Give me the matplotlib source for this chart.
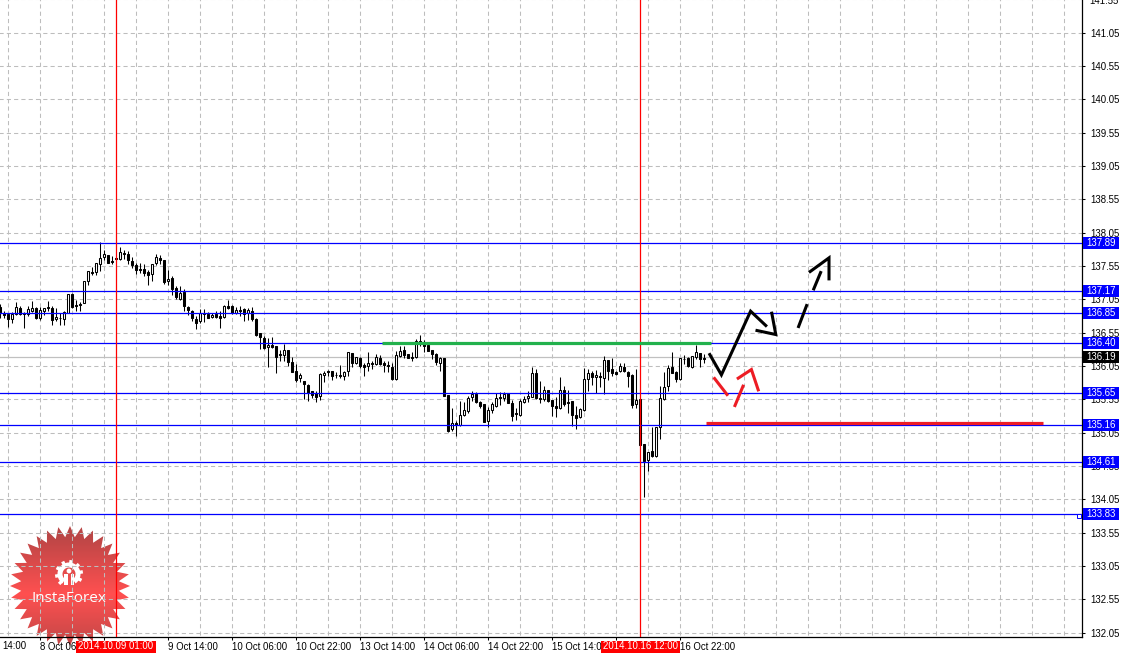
import numpy as np
import matplotlib
matplotlib.use("Agg")
import matplotlib.pyplot as plt
from matplotlib.patches import Rectangle, Polygon, Circle, Wedge
from matplotlib.transforms import Affine2D, blended_transform_factory

opens = [136.94,136.84,136.83,136.76,136.83,136.92,136.85,136.83,136.88,136.925,136.775,136.88,136.935,136.92,136.75,136.775,136.75,136.84,137.135,136.97,
136.98,136.99,137.33,137.46,137.46,137.58,137.685,137.72,137.63,137.67,137.65,137.745,137.735,137.625,137.57,137.505,137.51,137.455,137.43,137.59,
137.675,137.64,137.325,137.37,137.225,137.06,137.16,136.94,136.88,136.76,136.72,136.845,136.825,136.78,136.83,136.805,136.79,136.95,136.95,136.84,
136.895,136.90,136.84,136.88,136.76,136.545,136.475,136.335,136.37,136.35,136.235,136.21,136.295,136.105,135.98,135.865,135.825,135.77,135.675,135.645,
135.60,135.915,135.975,135.98,135.92,135.915,135.895,135.97,136.245,136.09,136.175,136.07,136.045,136.10,136.075,136.175,136.10,136.07,136.04,135.855,
136.20,136.295,136.235,136.18,136.19,136.425,136.415,136.37,136.29,136.235,136.09,136.17,135.62,135.105,135.195,135.16,135.31,135.37,135.58,135.63,
135.515,135.485,135.22,135.39,135.455,135.59,135.565,135.645,135.49,135.345,135.32,135.505,135.565,135.59,135.945,135.57,135.555,135.695,135.545,135.455,
135.415,135.69,135.515,135.52,135.32,135.28,135.39,135.855,135.945,135.88,135.905,135.865,136.145,136.01,135.96,135.97,136.035,135.965,135.92,135.48,
135.555,134.88,134.64,134.78,134.695,135.14,135.555,135.75,136.04,135.955,135.85,136.16,136.175,136.04,136.18,136.245,136.17]
highs = [136.98,136.88,136.83,136.865,137.005,136.95,136.865,136.955,137.02,136.94,136.94,136.92,137.03,136.955,136.92,136.84,136.88,137.135,137.145,137.045,
137.01,137.33,137.475,137.54,137.595,137.915,137.795,137.72,137.705,137.69,137.83,137.79,137.77,137.68,137.59,137.595,137.58,137.49,137.585,137.73,
137.715,137.645,137.49,137.405,137.255,137.255,137.21,136.955,136.89,136.805,136.90,136.905,136.86,136.84,136.88,136.88,136.97,137.045,136.97,136.93,
136.955,136.92,136.92,136.93,136.77,136.545,136.50,136.465,136.48,136.355,136.295,136.38,136.295,136.18,136.08,135.94,135.825,135.78,135.675,135.68,
135.94,135.97,135.995,135.98,135.955,136.07,135.98,136.26,136.245,136.19,136.19,136.09,136.265,136.13,136.23,136.215,136.12,136.12,136.09,136.28,
136.355,136.355,136.235,136.255,136.455,136.52,136.445,136.395,136.29,136.245,136.18,136.17,135.62,135.42,135.23,135.53,135.505,135.605,135.67,135.665,
135.53,135.485,135.43,135.505,135.65,135.655,135.665,135.645,135.54,135.42,135.555,135.605,135.68,136.04,136.005,135.83,135.755,135.695,135.545,135.58,
135.89,135.755,135.69,135.53,135.455,135.42,136.02,136.005,135.98,135.99,135.955,136.205,136.145,136.17,135.98,136.10,136.09,135.98,135.93,136.005,
135.555,134.88,134.765,135.14,135.14,135.755,135.955,136.07,136.265,135.98,136.175,136.215,136.18,136.20,136.37,136.245,136.23]
lows = [136.77,136.77,136.64,136.70,136.81,136.81,136.625,136.80,136.86,136.76,136.74,136.81,136.88,136.67,136.73,136.66,136.66,136.84,136.92,136.87,
136.87,136.99,137.26,137.41,137.41,137.47,137.635,137.59,137.575,137.63,137.64,137.66,137.58,137.52,137.425,137.44,137.405,137.26,137.32,137.56,
137.58,137.28,137.26,137.12,137.05,137.04,136.875,136.81,136.73,136.605,136.70,136.71,136.765,136.77,136.775,136.625,136.77,136.90,136.83,136.83,
136.80,136.72,136.74,136.72,136.50,136.30,136.30,136.04,136.32,135.95,136.13,136.13,136.055,135.955,135.805,135.805,135.56,135.53,135.57,135.505,
135.54,135.805,135.905,135.845,135.87,135.87,135.845,135.905,136.03,136.08,136.02,135.905,135.98,136.005,136.065,136.065,135.965,135.955,135.84,135.845,
136.18,136.17,136.165,136.12,136.17,136.355,136.255,136.28,136.155,136.07,135.97,135.595,135.065,135.07,134.995,135.15,135.30,135.34,135.53,135.49,
135.42,135.215,135.13,135.34,135.44,135.47,135.53,135.49,135.22,135.245,135.305,135.49,135.505,135.58,135.555,135.49,135.52,135.505,135.305,135.28,
135.405,135.455,135.34,135.155,135.10,135.27,135.38,135.68,135.77,135.65,135.73,135.63,135.84,135.905,135.915,135.96,135.955,135.74,135.415,135.42,
134.855,134.09,134.47,134.69,134.69,134.955,135.545,135.68,135.94,135.805,135.84,136.08,136.04,136.02,136.155,136.03,136.10]
closes = [136.84,136.82,136.75,136.83,136.935,136.83,136.835,136.905,136.92,136.775,136.89,136.92,136.92,136.735,136.785,136.765,136.86,137.135,136.93,136.945,
136.97,137.325,137.475,137.44,137.595,137.67,137.73,137.59,137.605,137.65,137.76,137.73,137.635,137.56,137.495,137.495,137.445,137.41,137.585,137.685,
137.635,137.305,137.36,137.21,137.085,137.145,136.945,136.885,136.765,136.70,136.845,136.83,136.775,136.815,136.78,136.775,136.95,136.925,136.85,136.895,
136.88,136.835,136.895,136.75,136.52,136.48,136.32,136.37,136.33,136.19,136.21,136.295,136.105,135.965,135.84,135.915,135.775,135.65,135.62,135.59,
135.93,135.95,135.955,135.905,135.91,135.895,135.965,136.26,136.10,136.19,136.045,136.035,136.095,136.085,136.185,136.075,136.06,136.045,135.855,136.215,
136.28,136.215,136.165,136.17,136.42,136.415,136.345,136.28,136.235,136.105,136.17,135.595,135.08,135.195,135.16,135.32,135.39,135.57,135.63,135.505,
135.45,135.215,135.395,135.48,135.575,135.565,135.63,135.49,135.305,135.325,135.52,135.555,135.60,135.945,135.575,135.56,135.69,135.52,135.445,135.415,
135.69,135.48,135.49,135.32,135.265,135.405,135.855,135.945,135.88,135.915,135.88,136.145,135.98,135.94,135.93,136.05,135.97,135.895,135.47,135.545,
134.87,134.63,134.765,134.695,135.13,135.57,135.74,136.025,135.945,135.85,136.175,136.15,136.055,136.20,136.26,136.15,136.16]

price_ticks = [132.05 + 0.5 * i for i in range(20)]
time_tick_bars = [10, 26, 42, 58, 74, 90, 106, 122, 138, 154, 170]
time_tick_labels = ["8 Oct 06:00", "", "9 Oct 14:00", "10 Oct 06:00", "10 Oct 22:00",
                    "13 Oct 14:00", "14 Oct 06:00", "14 Oct 22:00", "15 Oct 14:00", "", "16 Oct 22:00"]
level_prices = [137.89, 137.17, 136.85, 136.40, 135.65, 135.16, 134.61, 133.83]
last_price = 136.19
event_bars = [29, 160]
event_labels = ["2014.10.09 01:00", "2014.10.16 12:00"]
green_bars, green_prices = [95.4, 177.6], [136.40, 136.40]
red_bars, red_prices = [176.4, 260.6], [135.19, 135.19]
black_strokes = [
    ([177.4, 180.3, 187.6, 191.4], [136.22, 135.915, 136.87, 136.655]),
    ([192.9, 193.9, 189.2], [136.84, 136.52, 136.58]),
    ([199.6, 201.6], [136.64, 136.955]),
    ([203.4, 205.1], [137.205, 137.45]),
    ([202.5, 207.2, 207.2], [137.465, 137.67, 137.355]),
]
red_strokes = [
    ([178.6, 181.7], [135.86, 135.62]),
    ([183.7, 185.7], [135.455, 135.745]),
    ([184.5, 187.8, 189.5], [135.865, 135.995, 135.69]),
]

W, H = 1123, 656
FONT = "Liberation Sans"
plt.rcParams["font.family"] = FONT
fig = plt.figure(figsize=(W / 100, H / 100), dpi=100, facecolor="white")

# logo layer under the chart
lg = fig.add_axes([0, 0, 1, 1], zorder=0)
lg.set_xlim(0, W); lg.set_ylim(H, 0); lg.axis("off")
cx, cy, R, r, n = 70, 586, 60, 49, 32
ang = np.linspace(0, 2 * np.pi, 2 * n, endpoint=False) - np.pi / 2
rad = np.where(np.arange(2 * n) % 2 == 0, R, r)
star = Polygon(np.c_[cx + rad * np.cos(ang), cy + rad * np.sin(ang)], closed=True,
               facecolor="none", edgecolor="none", transform=lg.transData)
lg.add_patch(star)
yy, xx = np.mgrid[cy - R:cy + R:120j, cx - R:cx + R:120j]
t = np.clip(np.abs(yy - (cy + 8)) / 60, 0, 1)
img = np.zeros((120, 120, 3))
img[..., 0] = (255 - 70 * t) / 255
img[..., 1] = (80 - 10 * t) / 255
img[..., 2] = (80 - 10 * t) / 255
im = lg.imshow(img, extent=(cx - R, cx + R, cy + R, cy - R), aspect="auto", interpolation="bilinear")
im.set_clip_path(star)
lg.set_xlim(0, W); lg.set_ylim(H, 0)
gx, gy = 69, 574
lg.add_patch(Wedge((gx, gy), 11.5, 125, 55, width=5, facecolor="white", edgecolor="none"))
for a in np.deg2rad(np.arange(-225, 60, 36)):
    lg.plot([gx + 10 * np.cos(a), gx + 14 * np.cos(a)], [gy + 10 * np.sin(a), gy + 14 * np.sin(a)],
            color="white", lw=2.4, solid_capstyle="butt")
lg.add_patch(Circle((gx, gy - 3), 2.4, facecolor="white", edgecolor="none"))
lg.add_patch(Rectangle((gx - 5, gy), 3.5, 11, facecolor="white", edgecolor="none"))
lg.add_patch(Rectangle((gx + 1.5, gy), 3.5, 11, facecolor="white", edgecolor="none"))
lg.text(cx - 1, 598, "InstaForex", color="white", fontsize=11, family="Open Sans", ha="center", va="center")

# chart layer
ax = fig.add_axes([0, (H - 637) / H, 1082 / W, 637 / H], zorder=1)
ax.patch.set_visible(False)
ax.set_xlim(-0.05, 270.45)
ax.set_ylim(131.983, 141.538)
for s in ("left", "top"):
    ax.spines[s].set_visible(False)
for s in ("right", "bottom"):
    ax.spines[s].set_linewidth(0.9)
ax.set_axisbelow(True)
ax.grid(False)
dash = (0, (4, 3))
ax.hlines(price_ticks, -1, 271, color="#bdbdbd", lw=0.75, linestyles=[dash], zorder=0.5)
ax.vlines(np.arange(2, 271, 8), 131, 142, color="#bdbdbd", lw=0.75, linestyles=[dash], zorder=0.5)
ax.yaxis.tick_right()
ax.set_yticks([p for p in price_ticks if p < 141.5])
ax.set_yticklabels([f"{p:.2f}" for p in price_ticks if p < 141.5])
ax.set_xticks(time_tick_bars)
ax.set_xticklabels(time_tick_labels)
ax.tick_params(axis="y", length=2.2, width=0.75, pad=3.5, labelsize=6.9, colors="black")
ax.tick_params(axis="x", length=2.2, width=0.75, pad=1.5, labelsize=6.9, colors="black")
for lab in ax.get_xticklabels():
    lab.set_ha("left")
for lab in ax.get_yticklabels():
    lab.set_ha("left")

# candles
o, h, l, c = map(np.array, (opens, highs, lows, closes))
bars = np.arange(len(o))
ax.vlines(bars, l, h, color="black", lw=0.75, zorder=2)
up = c >= o
ax.bar(bars[up], (c - o)[up], bottom=o[up], width=0.5, facecolor="white", edgecolor="black", lw=0.75, zorder=2.1)
ax.bar(bars[~up], (o - c)[~up], bottom=c[~up], width=0.5, facecolor="black", edgecolor="black", lw=0.75, zorder=2.1)

# levels
ax.hlines(last_price, -1, 271, color="#c0c0c0", lw=0.9, zorder=1.5)
ax.hlines(level_prices, -1, 271, color="#0000ff", lw=0.9, zorder=3)
ax.vlines(event_bars, 131, 142, color="#ff0000", lw=0.9, zorder=3.1)
ax.plot(green_bars, green_prices, color="#22b14c", lw=2.3, solid_capstyle="butt", zorder=3.2)
ax.plot(red_bars, red_prices, color="#ed1c24", lw=2.3, solid_capstyle="butt", zorder=3.2)
for xs, ys in black_strokes:
    ax.plot(xs, ys, color="black", lw=2.2, solid_joinstyle="miter", zorder=4)
for xs, ys in red_strokes:
    ax.plot(xs, ys, color="#ed1c24", lw=2.2, solid_joinstyle="miter", zorder=4)

# tags (x in pixels)
px = Affine2D().scale(1, -1).translate(0, H)
pxy = blended_transform_factory(px, ax.transData)
for p in level_prices + [last_price]:
    col = "black" if p == last_price else "#0000ff"
    ax.add_patch(Rectangle((1083, p - 0.09), 36, 0.18, transform=pxy, facecolor=col, edgecolor="none",
                           clip_on=False, zorder=9))
    ax.text(1101, p, f"{p:.2f}", transform=pxy, color="white", fontsize=6.9, ha="center", va="center",
            clip_on=False, zorder=10)
ax.add_patch(Rectangle((1076.5, 513.5), 4, 4, transform=px, facecolor="white", edgecolor="#0000ff", lw=0.7,
                       clip_on=False, zorder=9))
ax.text(1089, 1.0, "141.55", transform=px, fontsize=6.9, ha="left", va="center", clip_on=False, zorder=5)

for b, lab, (x0, x1) in zip(event_bars, event_labels, [(76, 156), (600.5, 680)]):
    ax.add_patch(Rectangle((x0, 640.5), x1 - x0, 12, transform=px, facecolor="#ff0000", edgecolor="none",
                           clip_on=False, zorder=9))
    ax.text((x0 + x1) / 2, 646, lab, transform=px, color="white", fontsize=6.9, ha="center", va="center",
            clip_on=False, zorder=10)
ax.text(2, 646, "14:00", transform=px, fontsize=6.9, ha="left", va="center", clip_on=False, zorder=5)

fig.savefig("out.png", dpi=100, facecolor="white")
